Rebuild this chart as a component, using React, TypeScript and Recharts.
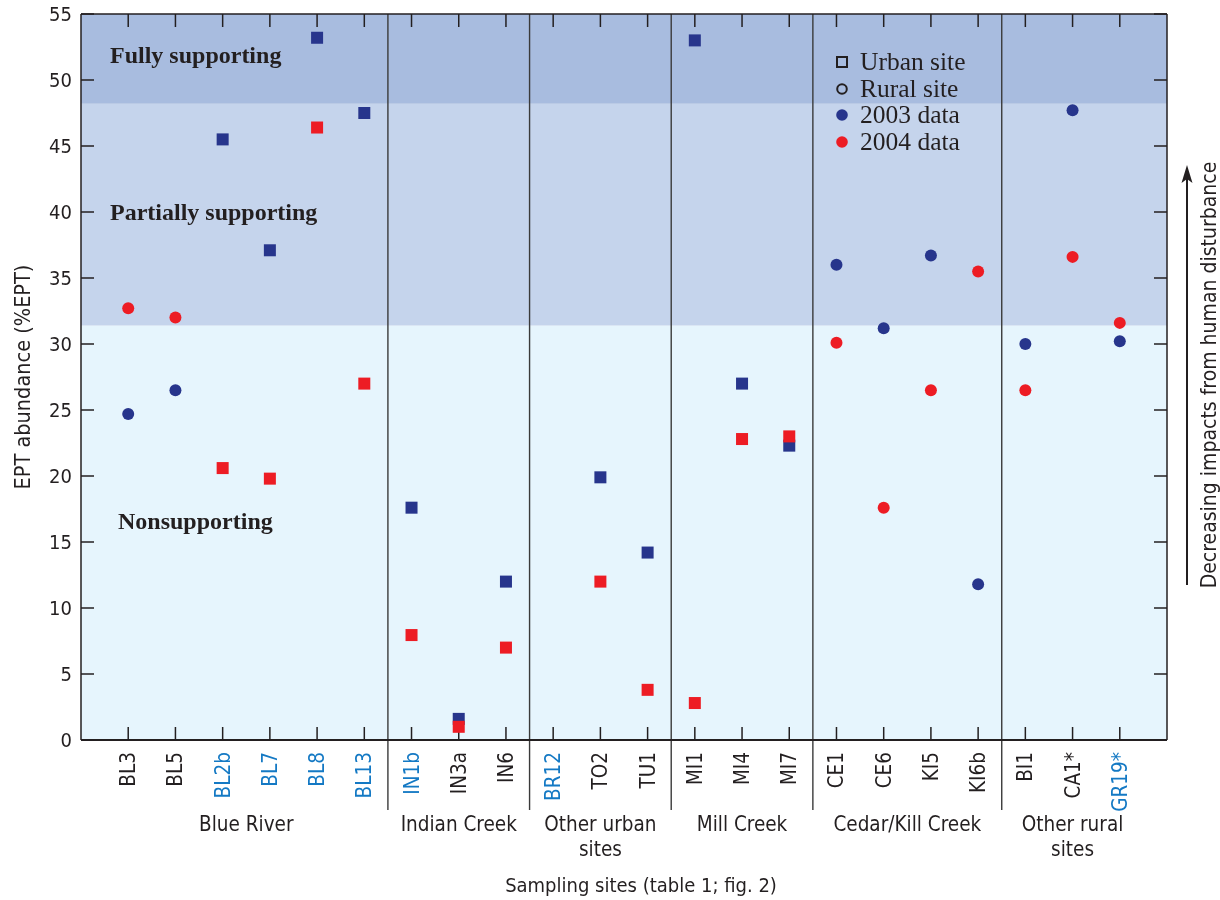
import React from 'react';
import { ScatterChart, Scatter, XAxis, YAxis, ReferenceArea, ReferenceLine, Legend } from 'recharts';

const sites = ['BL3', 'BL5', 'BL2b', 'BL7', 'BL8', 'BL13', 'IN1b', 'IN3a', 'IN6', 'BR12', 'TO2', 'TU1', 'MI1', 'MI4', 'MI7', 'CE1', 'CE6', 'KI5', 'KI6b', 'BI1', 'CA1*', 'GR19*'];
const siteTypes = ['rural', 'rural', 'urban', 'urban', 'urban', 'urban', 'urban', 'urban', 'urban', 'urban', 'urban', 'urban', 'urban', 'urban', 'urban', 'rural', 'rural', 'rural', 'rural', 'rural', 'rural', 'rural'];
const blueSites = ['BL2b', 'BL7', 'BL8', 'BL13', 'IN1b', 'BR12', 'GR19*'];
const ept2003: (number | null)[] = [24.7, 26.5, 45.5, 37.1, 53.2, 47.5, 17.6, 1.6, 12.0, null, 19.9, 14.2, 53.0, 27.0, 22.3, 36.0, 31.2, 36.7, 11.8, 30.0, 47.7, 30.2];
const ept2004: (number | null)[] = [32.7, 32.0, 20.6, 19.8, 46.4, 27.0, 7.95, 1.0, 7.0, null, 12.0, 3.8, 2.8, 22.8, 23.0, 30.1, 17.6, 26.5, 35.5, 26.5, 36.6, 31.6];
const groupNames = [['Blue River'], ['Indian Creek'], ['Other urban', 'sites'], ['Mill Creek'], ['Cedar/Kill Creek'], ['Other rural', 'sites']];
const groupCenters = [3.5, 8, 11, 14, 17.5, 21];
const groupDividers = [6.5, 9.5, 12.5, 15.5, 19.5];
const yTicks = [0, 5, 10, 15, 20, 25, 30, 35, 40, 45, 50, 55];
const bandNames = ['Nonsupporting', 'Partially supporting', 'Fully supporting'];
const bandLower = [0, 31.4, 48.2];
const bandUpper = [31.4, 48.2, 55];
const legendNames = ['Urban site', 'Rural site', '2003 data', '2004 data'];

const sitePositions = sites.map((_, i) => i + 1);

const BLUE = '#27358c';
const RED = '#ed1c24';
const INK = '#231f20';
const LINK = '#1479c4';
const bandColors = ['#e6f5fd', '#c5d4ec', '#a8bcdf'];
const bandLabelOffsets = [
  { dx: 37, dy: 203 },
  { dx: 29, dy: 116 },
  { dx: 29, dy: 49 },
];
const SANS = "'Liberation Sans Narrow', 'Arial Narrow', 'DejaVu Sans Condensed', sans-serif";
const SERIF = "'Liberation Serif', 'Times New Roman', serif";

const data2003 = sites
  .map((s, i) => ({ x: i + 1, y: ept2003[i], type: siteTypes[i], site: s }))
  .filter((d) => d.y !== null);
const data2004 = sites
  .map((s, i) => ({ x: i + 1, y: ept2004[i], type: siteTypes[i], site: s }))
  .filter((d) => d.y !== null);

const makeMarker = (color: string) => (props: any) => {
  const { cx, cy, payload } = props;
  if (cx == null || cy == null) return <g />;
  if (payload && payload.type === 'urban') {
    return <rect x={cx - 6} y={cy - 6} width={12} height={12} fill={color} />;
  }
  return <circle cx={cx} cy={cy} r={6} fill={color} />;
};
const marker2003 = makeMarker(BLUE);
const marker2004 = makeMarker(RED);

const emptyTick = () => <g />;

const renderSiteTick = (props: any) => {
  const { x, y, payload } = props;
  const name = sites[Math.round(payload.value) - 1];
  if (!name) return <g />;
  const color = blueSites.includes(name) ? LINK : INK;
  return (
    <text
      x={x}
      y={y}
      transform={`rotate(-90, ${x}, ${y})`}
      textAnchor="end"
      dominantBaseline="central"
      fontFamily={SANS}
      fontSize={20.5}
      fill={color}
    >
      {name}
    </text>
  );
};

const makeGroupLabel = (idx: number) => (lp: any) => {
  const vb = lp.viewBox || {};
  const x = vb.x;
  const bottom = vb.y + vb.height;
  return (
    <text textAnchor="middle" fontFamily={SANS} fontSize={20.5} fill={INK}>
      {groupNames[idx].map((l, i) => (
        <tspan key={i} x={x} y={bottom + 91 + i * 25}>
          {l}
        </tspan>
      ))}
    </text>
  );
};
const groupLabelRenderers = groupNames.map((_, i) => makeGroupLabel(i));

const makeBandLabel = (i: number) => (lp: any) => {
  const vb = lp.viewBox || {};
  return (
    <text
      x={vb.x + bandLabelOffsets[i].dx}
      y={vb.y + bandLabelOffsets[i].dy}
      fontFamily={SERIF}
      fontWeight="bold"
      fontSize={24}
      fill={INK}
    >
      {bandNames[i]}
    </text>
  );
};
const bandLabelRenderers = bandNames.map((_, i) => makeBandLabel(i));

const renderXTitle = (lp: any) => {
  const vb = lp.viewBox || {};
  return (
    <text x={vb.x + vb.width / 2 + 17} y={vb.y + 152} textAnchor="middle" fontFamily={SANS} fontSize={20} fill={INK}>
      Sampling sites (table 1; fig. 2)
    </text>
  );
};

const renderYTitle = (lp: any) => {
  const vb = lp.viewBox || {};
  const cx = vb.x + 22;
  const cy = vb.y + vb.height / 2;
  return (
    <text
      x={cx}
      y={cy}
      transform={`rotate(-90, ${cx}, ${cy})`}
      textAnchor="middle"
      dominantBaseline="central"
      fontFamily={SANS}
      fontSize={21.5}
      fill={INK}
    >
      EPT abundance (%EPT)
    </text>
  );
};

const LegendContent = () => (
  <div style={{ fontFamily: SERIF, fontSize: 25.5, color: INK, lineHeight: '26.5px' }}>
    {legendNames.map((n, i) => (
      <div key={n} style={{ display: 'flex', alignItems: 'center', height: 26.5 }}>
        <svg width={20} height={20} style={{ marginRight: 8 }}>
          {i === 0 && <rect x={5} y={5} width={10} height={10} fill="none" stroke={INK} strokeWidth={2} />}
          {i === 1 && <circle cx={10} cy={10} r={4.8} fill="none" stroke={INK} strokeWidth={2} />}
          {i === 2 && <circle cx={10} cy={10} r={5.8} fill={BLUE} />}
          {i === 3 && <circle cx={10} cy={10} r={5.8} fill={RED} />}
        </svg>
        <span>{n}</span>
      </div>
    ))}
  </div>
);

const dividerShape = (p: any) => {
  const top = Math.min(p.y1, p.y2);
  const bottom = Math.max(p.y1, p.y2);
  return <line x1={p.x1} x2={p.x2} y1={top} y2={bottom + 70} stroke="#3a3a3a" strokeWidth={1.4} />;
};

const axisLineMain = { stroke: INK, strokeWidth: 2 };
const axisLineThin = { stroke: INK, strokeWidth: 1.5 };
const tickLineStyle = { stroke: INK, strokeWidth: 1.5 };
const yTickStyle = { fontFamily: SANS, fontSize: 20, fill: INK };
const xDomain: [number, number] = [0, 23];
const yDomain: [number, number] = [0, 55];
const legendWrapper = { left: 832, top: 49, width: 200, height: 110 };
const chartMargin = { top: 14, right: 53, bottom: 0, left: 0 };

export default function App() {
  return (
    <div style={{ position: 'fixed', left: 0, top: 0, width: 1220, height: 900 }}>
      <ScatterChart width={1220} height={900} margin={chartMargin}>
        {bandNames.map((name, i) => (
          <ReferenceArea
            key={name}
            xAxisId="main"
            yAxisId="left"
            x1={0}
            x2={23}
            y1={bandLower[i]}
            y2={bandUpper[i]}
            fill={bandColors[i]}
            fillOpacity={1}
            stroke="none"
            label={bandLabelRenderers[i]}
          />
        ))}
        <XAxis
          xAxisId="main"
          type="number"
          dataKey="x"
          domain={xDomain}
          allowDataOverflow
          ticks={sitePositions}
          interval={0}
          tickLine={false}
          tickSize={8}
          tickMargin={4}
          axisLine={axisLineMain}
          tick={renderSiteTick}
          height={160}
          label={renderXTitle}
        />
        <XAxis
          xAxisId="bottomTicks"
          type="number"
          dataKey="x"
          domain={xDomain}
          allowDataOverflow
          ticks={sitePositions}
          interval={0}
          mirror
          tick={emptyTick}
          tickSize={13}
          tickLine={tickLineStyle}
          axisLine={false}
        />
        <XAxis
          xAxisId="top"
          orientation="top"
          type="number"
          dataKey="x"
          domain={xDomain}
          allowDataOverflow
          ticks={sitePositions}
          interval={0}
          mirror
          tick={emptyTick}
          tickSize={13}
          tickLine={tickLineStyle}
          axisLine={axisLineThin}
        />
        <YAxis
          yAxisId="left"
          type="number"
          domain={yDomain}
          allowDataOverflow
          ticks={yTicks}
          interval={0}
          width={81}
          tickLine={false}
          tickSize={6}
          tickMargin={3}
          axisLine={axisLineThin}
          tick={yTickStyle}
          label={renderYTitle}
        />
        <YAxis
          yAxisId="leftTicks"
          type="number"
          domain={yDomain}
          allowDataOverflow
          ticks={yTicks}
          interval={0}
          mirror
          tick={emptyTick}
          tickSize={13}
          tickLine={tickLineStyle}
          axisLine={false}
        />
        <YAxis
          yAxisId="right"
          orientation="right"
          type="number"
          domain={yDomain}
          allowDataOverflow
          ticks={yTicks}
          interval={0}
          mirror
          tick={emptyTick}
          tickSize={13}
          tickLine={tickLineStyle}
          axisLine={axisLineThin}
        />
        {groupDividers.map((d) => (
          <ReferenceLine key={d} xAxisId="main" yAxisId="left" x={d} stroke="#3a3a3a" shape={dividerShape} />
        ))}
        {groupCenters.map((c, i) => (
          <ReferenceLine
            key={`g${c}`}
            xAxisId="main"
            yAxisId="left"
            x={c}
            stroke="none"
            strokeOpacity={0}
            label={groupLabelRenderers[i]}
          />
        ))}
        <Scatter
          name="2003 data"
          xAxisId="main"
          yAxisId="left"
          data={data2003}
          dataKey="y"
          fill={BLUE}
          shape={marker2003}
          isAnimationActive={false}
        />
        <Scatter
          name="2004 data"
          xAxisId="main"
          yAxisId="left"
          data={data2004}
          dataKey="y"
          fill={RED}
          shape={marker2004}
          isAnimationActive={false}
        />
        <Legend
          layout="horizontal"
          verticalAlign="middle"
          align="center"
          wrapperStyle={legendWrapper}
          content={LegendContent}
        />
      </ScatterChart>
      <svg
        width={1220}
        height={900}
        style={{ position: 'absolute', left: 0, top: 0, pointerEvents: 'none' }}
      >
        <line x1={1187} y1={585} x2={1187} y2={178} stroke={INK} strokeWidth={2} />
        <polygon points="1187,165 1181.5,183 1187,179 1192.5,183" fill={INK} />
        <text
          x={1209}
          y={375}
          transform="rotate(-90, 1209, 375)"
          textAnchor="middle"
          dominantBaseline="central"
          fontFamily={SANS}
          fontSize={21}
          fill={INK}
        >
          Decreasing impacts from human disturbance
        </text>
      </svg>
    </div>
  );
}
